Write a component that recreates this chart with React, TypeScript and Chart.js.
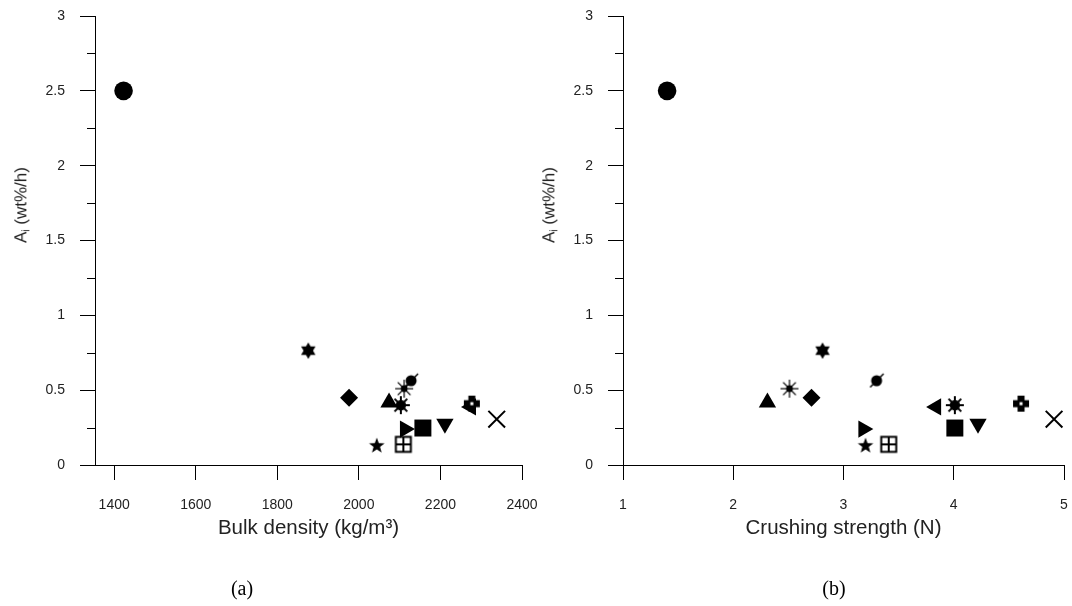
import React, { useEffect, useRef } from 'react';
import { Chart, registerables } from 'chart.js';

Chart.register(...registerables);

// ---- data ----
const markerKinds = [
  'circle', 'hexagram', 'diamond', 'planet', 'asterisk', 'triangleUp', 'sun',
  'triangleRight', 'square', 'triangleDown', 'triangleLeft', 'flower', 'cross', 'star', 'boxPlus',
];
const bulkDensity = [1423, 1876, 1976, 2128, 2111, 2074, 2103, 2113, 2157, 2211, 2275, 2277, 2338, 2044, 2109];
const crushingStrength = [1.40, 2.81, 2.71, 3.30, 2.51, 2.31, 4.01, 3.18, 4.01, 4.22, 3.84, 4.61, 4.91, 3.20, 3.41];
const attritionRate = [2.50, 0.764, 0.45, 0.563, 0.51, 0.418, 0.40, 0.24, 0.247, 0.276, 0.388, 0.41, 0.306, 0.128, 0.138];

const yMajorTicks = [0, 0.5, 1, 1.5, 2, 2.5, 3];
const yMinorTicks = [0.25, 0.75, 1.25, 1.75, 2.25, 2.75];
const bulkTicks = [1400, 1600, 1800, 2000, 2200, 2400];
const crushTicks = [1, 2, 3, 4, 5];

const SANS = '"Liberation Sans", Arial, Helvetica, sans-serif';
const SERIF = '"Liberation Serif", "Times New Roman", serif';
const TEXT = '#222';
const PLOT_TOP = 16;
const PLOT_BOTTOM = 465;
const X_AXIS_H = 76;
const H = 606;

function makeCanvas(size: number, draw: (ctx: CanvasRenderingContext2D) => void) {
  const c = document.createElement('canvas');
  c.width = size;
  c.height = size;
  const ctx = c.getContext('2d') as CanvasRenderingContext2D;
  ctx.translate(size / 2, size / 2);
  ctx.fillStyle = '#000';
  ctx.strokeStyle = '#000';
  draw(ctx);
  return c;
}

function polygon(ctx: CanvasRenderingContext2D, pts: number[][]) {
  ctx.beginPath();
  pts.forEach((p, i) => (i ? ctx.lineTo(p[0], p[1]) : ctx.moveTo(p[0], p[1])));
  ctx.closePath();
  ctx.fill();
}

function buildMarkers() {
  const hexagram = makeCanvas(20, (ctx) => {
    const r = 8.3;
    const tri = (a0: number) => [0, 1, 2].map((k) => {
      const a = (a0 + k * 120) * Math.PI / 180;
      return [r * Math.cos(a), r * Math.sin(a)];
    });
    polygon(ctx, tri(-90));
    polygon(ctx, tri(90));
  });
  const planet = makeCanvas(20, (ctx) => {
    ctx.beginPath();
    ctx.arc(0, 0, 5.5, 0, Math.PI * 2);
    ctx.fill();
    ctx.lineWidth = 1.5;
    ctx.beginPath();
    ctx.moveTo(-6.5, 6.5);
    ctx.lineTo(7, -7);
    ctx.stroke();
  });
  const asterisk = makeCanvas(22, (ctx) => {
    ctx.lineWidth = 1.2;
    for (let k = 0; k < 8; k++) {
      const a = k * Math.PI / 4;
      ctx.beginPath();
      ctx.moveTo(0, 0);
      ctx.lineTo(9 * Math.cos(a), 9 * Math.sin(a));
      ctx.stroke();
    }
    ctx.beginPath();
    ctx.arc(0, 0, 3.4, 0, Math.PI * 2);
    ctx.fill();
  });
  const sun = makeCanvas(22, (ctx) => {
    ctx.lineWidth = 2;
    for (let k = 0; k < 8; k++) {
      const a = k * Math.PI / 4;
      ctx.beginPath();
      ctx.moveTo(0, 0);
      ctx.lineTo(9 * Math.cos(a), 9 * Math.sin(a));
      ctx.stroke();
    }
    ctx.beginPath();
    ctx.arc(0, 0, 5.2, 0, Math.PI * 2);
    ctx.fill();
  });
  const flower = makeCanvas(20, (ctx) => {
    ctx.fillRect(-3.5, -8, 7, 16);
    ctx.fillRect(-8, -3.5, 16, 7);
    ctx.fillStyle = '#fff';
    ctx.fillRect(-1.5, -1.5, 3, 3);
  });
  const star = makeCanvas(20, (ctx) => {
    const pts: number[][] = [];
    for (let k = 0; k < 10; k++) {
      const r = k % 2 === 0 ? 8.2 : 3.4;
      const a = (-90 + k * 36) * Math.PI / 180;
      pts.push([r * Math.cos(a), r * Math.sin(a)]);
    }
    polygon(ctx, pts);
  });
  const boxPlus = makeCanvas(20, (ctx) => {
    ctx.lineWidth = 2;
    ctx.strokeRect(-7.5, -7.5, 15, 15);
    ctx.beginPath();
    ctx.moveTo(0, -7.5);
    ctx.lineTo(0, 7.5);
    ctx.moveTo(-7.5, 0);
    ctx.lineTo(7.5, 0);
    ctx.stroke();
  });
  const m: Record<string, { style: any; radius: number; rotation: number; border: number }> = {
    circle: { style: 'circle', radius: 9.3, rotation: 0, border: 0 },
    hexagram: { style: hexagram, radius: 8, rotation: 0, border: 0 },
    diamond: { style: 'rectRot', radius: 9, rotation: 0, border: 0 },
    planet: { style: planet, radius: 8, rotation: 0, border: 0 },
    asterisk: { style: asterisk, radius: 8, rotation: 0, border: 0 },
    triangleUp: { style: 'triangle', radius: 10, rotation: 0, border: 0 },
    sun: { style: sun, radius: 8, rotation: 0, border: 0 },
    triangleRight: { style: 'triangle', radius: 10, rotation: 90, border: 0 },
    square: { style: 'rect', radius: 12, rotation: 0, border: 0 },
    triangleDown: { style: 'triangle', radius: 10, rotation: 180, border: 0 },
    triangleLeft: { style: 'triangle', radius: 10, rotation: 270, border: 0 },
    flower: { style: flower, radius: 8, rotation: 0, border: 0 },
    cross: { style: 'crossRot', radius: 11.8, rotation: 0, border: 2 },
    star: { style: star, radius: 8, rotation: 0, border: 0 },
    boxPlus: { style: boxPlus, radius: 8, rotation: 0, border: 0 },
  };
  return m;
}

const minorTicksPlugin = {
  id: 'minorTicks',
  afterDraw(chart: any) {
    const y = chart.scales.y;
    const ctx = chart.ctx as CanvasRenderingContext2D;
    const left = chart.chartArea.left;
    ctx.save();
    ctx.strokeStyle = '#000';
    ctx.lineWidth = 1;
    yMinorTicks.forEach((v) => {
      const py = Math.round(y.getPixelForValue(v)) + 0.5;
      ctx.beginPath();
      ctx.moveTo(left - 8, py);
      ctx.lineTo(left, py);
      ctx.stroke();
    });
    ctx.restore();
  },
};

function makeConfig(
  xs: number[], xMin: number, xMax: number, xTicks: number[], xTitle: string,
  yAxisWidth: number, padRight: number, markers: ReturnType<typeof buildMarkers>,
): any {
  const data = xs.map((x, i) => ({ x, y: attritionRate[i] }));
  const st = markerKinds.map((k) => markers[k]);
  const tickFont = { family: SANS, size: 14 };
  return {
    type: 'scatter',
    data: {
      datasets: [{
        data,
        pointStyle: st.map((s) => s.style),
        pointRadius: st.map((s) => s.radius),
        pointHoverRadius: st.map((s) => s.radius),
        pointRotation: st.map((s) => s.rotation),
        pointBorderWidth: st.map((s) => s.border),
        pointBackgroundColor: '#000',
        pointBorderColor: '#000',
        clip: false,
      }],
    },
    options: {
      responsive: false,
      animation: false,
      events: [],
      layout: {
        autoPadding: false,
        padding: { left: 0, right: padRight, top: PLOT_TOP, bottom: H - PLOT_BOTTOM - X_AXIS_H },
      },
      plugins: { legend: { display: false }, tooltip: { enabled: false } },
      scales: {
        x: {
          type: 'linear',
          min: xMin,
          max: xMax,
          afterBuildTicks: (s: any) => { s.ticks = xTicks.map((v) => ({ value: v })); },
          afterFit: (s: any) => {
            s.height = X_AXIS_H;
            s.paddingLeft = 0; s.paddingRight = 0; s.paddingTop = 0; s.paddingBottom = 0;
          },
          grid: { drawOnChartArea: false, drawTicks: true, tickLength: 15, tickColor: '#000', tickWidth: 1 },
          border: { display: true, color: '#000', width: 1 },
          ticks: {
            color: TEXT, font: tickFont, padding: 17, maxRotation: 0, autoSkip: false,
            callback: (v: number) => String(v),
          },
          title: { display: true, text: xTitle, color: TEXT, font: { family: SANS, size: 20.5 }, padding: 0 },
        },
        y: {
          type: 'linear',
          min: 0,
          max: 3,
          afterBuildTicks: (s: any) => { s.ticks = yMajorTicks.map((v) => ({ value: v })); },
          afterFit: (s: any) => {
            s.width = yAxisWidth;
            s.paddingLeft = 0; s.paddingRight = 0; s.paddingTop = 0; s.paddingBottom = 0;
          },
          grid: { drawOnChartArea: false, drawTicks: true, tickLength: 15, tickColor: '#000', tickWidth: 1 },
          border: { display: true, color: '#000', width: 1 },
          ticks: { color: TEXT, font: tickFont, padding: 15, autoSkip: false, callback: (v: number) => String(v) },
          title: { display: false },
        },
      },
    },
    plugins: [minorTicksPlugin],
  };
}

function YTitle({ x }: { x: number }) {
  return (
    <div
      style={{
        position: 'absolute', left: x, top: 205, transform: 'translate(-50%, -50%) rotate(-90deg)',
        fontFamily: SANS, fontSize: 17, color: TEXT, whiteSpace: 'nowrap', lineHeight: 1,
      }}
    >
      A<sub style={{ fontSize: '60%', verticalAlign: '-0.3em' }}>i</sub> (wt%/h)
    </div>
  );
}

function PanelLabel({ x, text }: { x: number; text: string }) {
  return (
    <div
      style={{
        position: 'absolute', left: x, top: 588, transform: 'translate(-50%, -50%)',
        fontFamily: SERIF, fontSize: 20, color: '#000', whiteSpace: 'nowrap', lineHeight: 1,
      }}
    >
      {text}
    </div>
  );
}

export default function App() {
  const refA = useRef<HTMLCanvasElement>(null);
  const refB = useRef<HTMLCanvasElement>(null);
  useEffect(() => {
    const markers = buildMarkers();
    const chartA = new Chart(refA.current as HTMLCanvasElement,
      makeConfig(bulkDensity, 1353, 2400, bulkTicks, 'Bulk density (kg/m³)', 95, 18, markers));
    const chartB = new Chart(refB.current as HTMLCanvasElement,
      makeConfig(crushingStrength, 1, 5, crushTicks, 'Crushing strength (N)', 83, 8, markers));
    return () => { chartA.destroy(); chartB.destroy(); };
  }, []);
  return (
    <div style={{ position: 'fixed', left: 0, top: 0, width: 1072, height: 606, background: '#fff', overflow: 'hidden' }}>
      <canvas ref={refA} width={540} height={606} style={{ position: 'absolute', left: 0, top: 0, width: 540, height: 606 }} />
      <canvas ref={refB} width={532} height={606} style={{ position: 'absolute', left: 540, top: 0, width: 532, height: 606 }} />
      <YTitle x={22} />
      <YTitle x={550} />
      <PanelLabel x={242} text="(a)" />
      <PanelLabel x={834} text="(b)" />
    </div>
  );
}
